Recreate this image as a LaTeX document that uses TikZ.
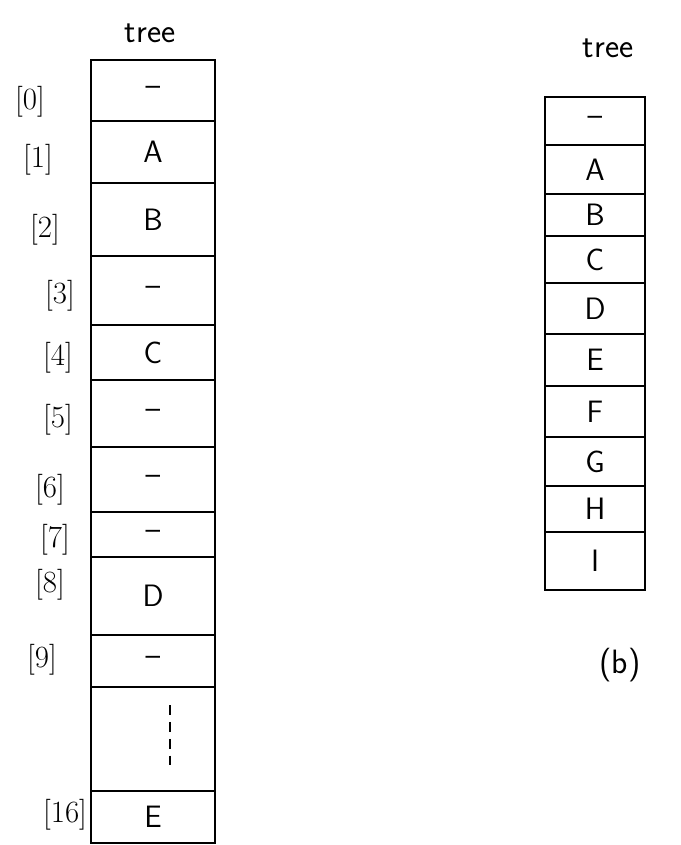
\documentclass[tikz,border=0pt]{standalone}
\begin{document}
\begin{tikzpicture}[x=0.025cm,y=-0.025cm,
  cell/.style={draw,line width=1.1pt,minimum width=#1,inner sep=0pt,
    font=\sffamily\fontsize{22}{24}\selectfont},
  idx/.style={font=\fontsize{22}{24}\selectfont},
  title/.style={font=\sffamily\fontsize{24}{26}\selectfont}]
\useasboundingbox (0,0) rectangle (681,845);
% (a) sparse array, index i -> slot
\node[title] (treeA) at (150,33) {tree};
\foreach \i/\t/\b/\txt in {0/60/121/--,1/121/183/A,2/183/256/B,3/256/325/--,
    4/325/380/C,5/380/447/--,6/447/512/--,7/512/557/--,8/557/635/D,
    9/635/687/--,gap/687/791/{},16/791/843/E}{
  \pgfmathsetmacro\h{(\b-\t)*0.025}
  \pgfmathsetmacro\c{(\t+\b)/2}
  \node[cell=3.1cm,minimum height=\h cm] (l\i) at (153,\c) {\txt};
}
\draw[line width=1pt,dash pattern=on 7pt off 5pt] (170,705) -- (170,767);
\foreach \i/\x/\y in {0/30/102,1/38/160,2/45/230,3/60/296,4/58/358,5/58/420,
    6/50/490,7/55/540,8/50/585,9/42/660,16/65/815}
  \node[idx] (ix\i) at (\x,\y) {[\i]};
% (b) compact array
\node[title] (treeB) at (608,48) {tree};
\foreach \i/\t/\b/\txt in {0/97/145/--,1/145/194/A,2/194/236/B,3/236/283/C,
    4/283/334/D,5/334/386/E,6/386/437/F,7/437/486/G,8/486/532/H,9/532/590/I}{
  \pgfmathsetmacro\h{(\b-\t)*0.025}
  \pgfmathsetmacro\c{(\t+\b)/2}
  \node[cell=2.5cm,minimum height=\h cm] (r\i) at (595,\c) {\txt};
}
\node[title] (capB) at (620,665) {(b)};
\end{tikzpicture}
\end{document}
